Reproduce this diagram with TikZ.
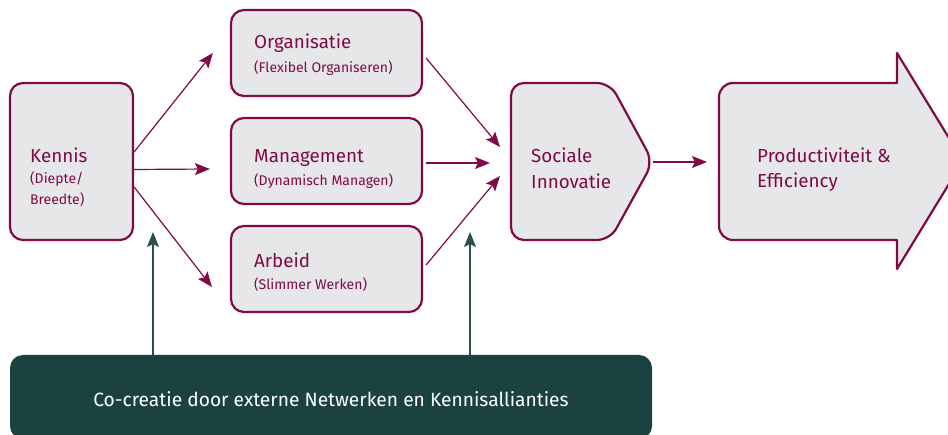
\documentclass[tikz,border=0pt]{standalone}
\usepackage{fontspec}
\setmainfont{Fira Sans}
\usetikzlibrary{arrows.meta,calc}
\definecolor{maroon}{RGB}{128,10,70}
\definecolor{boxfill}{RGB}{230,231,233}
\definecolor{darkgreen}{RGB}{28,66,64}
\definecolor{greenline}{RGB}{40,80,76}
\tikzset{
  box/.style={draw=maroon, fill=boxfill, line width=2.2pt, rounded corners=13pt, inner sep=0pt},
  title/.style={anchor=base west, text=maroon, font=\fontsize{18.8}{22}\selectfont, inner sep=0pt},
  sub/.style={anchor=base west, text=maroon, font=\fontsize{14}{17}\selectfont, inner sep=0pt},
  marrow/.style={draw=maroon, line width=1.2pt, -{Stealth[length=15pt,width=12pt,inset=3pt]}},
  garrow/.style={draw=greenline, line width=1.2pt, -{Stealth[length=15pt,width=12pt,inset=3pt]}},
}
\begin{document}
\begin{tikzpicture}[x=1pt,y=-1pt]
\useasboundingbox (0,0) rectangle (948,435);
\clip (0,0) rectangle (948,435);

% left box
\node[box, minimum width=123pt, minimum height=157pt] (kennis) at (71.5,161.5) {};
\node[title] (kt) at (30,163) {Kennis};
\node[sub] (ks1) at (30,184) {(Diepte/};
\node[sub] (ks2) at (30,205) {Breedte)};

% middle boxes
\node[box, minimum width=191pt, minimum height=86pt] (org) at (326.5,53) {};
\node[title] (ot) at (254,49) {Organisatie};
\node[sub] (os) at (254,73) {(Flexibel Organiseren)};

\node[box, minimum width=191pt, minimum height=86pt] (man) at (326.5,161) {};
\node[title] (mt) at (254,163) {Management};
\node[sub] (ms) at (254,186) {(Dynamisch Managen)};

\node[box, minimum width=191pt, minimum height=86pt] (arb) at (326.5,269) {};
\node[title] (at) at (254,268) {Arbeid};
\node[sub] (as) at (254,290) {(Slimmer Werken)};

% Sociale Innovatie pentagon
\draw[draw=maroon, fill=boxfill, line width=2.2pt, rounded corners=13pt, line join=round]
  (511,162) -- (511,83) -- (610,83) -- (653,162) -- (610,240) -- (511,240) -- cycle;
\coordinate (si-w) at (511,162);
\coordinate (si-e) at (653,162);
\node[title] (st1) at (531,163) {Sociale};
\node[title] (st2) at (531,189) {Innovatie};

% Productiviteit big arrow
\draw[draw=maroon, fill=boxfill, line width=2.2pt, line join=round]
  (897,83) -- (897,53) -- (963,161) -- (897,269) -- (897,240)
  [rounded corners=14pt] -- (719,240) -- (719,83) [sharp corners] -- cycle;
\coordinate (pr-w) at (719,162);
\node[title] (pt1) at (757,163) {Productiviteit \&};
\node[title] (pt2) at (757,188) {Efficiency};

% bottom green box
\node[fill=darkgreen, rounded corners=13pt, minimum width=642pt, minimum height=84pt, inner sep=0pt] (co) at (331,397) {};
\node[text=white, font=\fontsize{19.2}{22}\selectfont, inner sep=0pt] (cot) at (331,399) {Co-creatie door externe Netwerken en Kennisallianties};

% connectors
\draw[marrow] ($(kennis.east)+(0,-9.5)$) -- ($(org.west)+(-17,0)$);
\draw[marrow] ($(kennis.east)+(0,8)$) -- ($(man.west)+(-20,8)$);
\draw[marrow] ($(kennis.east)+(0,25.5)$) -- ($(arb.west)+(-18,18)$);

\draw[marrow] ($(org.east)+(3,5)$) -- ($(si-w)+(-11,-15)$);
\draw[marrow] ($(man.east)+(3,2)$) -- ($(si-w)+(-21,1)$);
\draw[marrow] ($(arb.east)+(3,-4)$) -- ($(si-w)+(-11,14)$);

\draw[marrow] (si-e) -- ($(pr-w)+(-12,0)$);

\draw[garrow] (co.north -| 153,0) -- (153,232);
\draw[garrow] (co.north -| 470,0) -- (470,232);
\end{tikzpicture}
\end{document}
